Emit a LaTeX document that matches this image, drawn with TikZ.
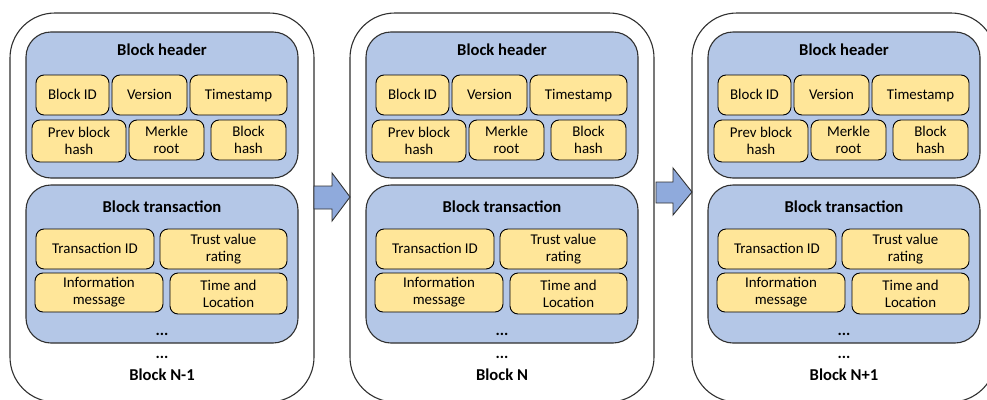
\documentclass[tikz,border=0pt]{standalone}
\usepackage{fontspec}
\setmainfont{Carlito}
\definecolor{hdrblue}{HTML}{B4C7E7}
\definecolor{itemyel}{HTML}{FFE699}
\definecolor{arrblue}{HTML}{8FAADC}
\definecolor{outline}{HTML}{303030}
\tikzset{
  outerbox/.style={draw=outline, line width=1.1pt, fill=white, rounded corners=45pt, inner sep=0pt},
  secbox/.style={draw=outline, line width=1.1pt, fill=hdrblue, rounded corners=25pt, inner sep=0pt},
  itembox/.style={draw=black, line width=0.9pt, fill=itemyel, rounded corners=8pt, inner sep=0pt,
    align=center, font=\fontsize{14.9}{17}\selectfont},
  oneline/.style={text height=10pt, text depth=1pt},
  titletext/.style={font=\fontsize{16.6}{18}\selectfont\bfseries, inner sep=0pt},
  dotstext/.style={font=\fontsize{16}{17}\selectfont\bfseries, inner sep=0pt},
  blockarrow/.style={draw=outline, line width=0.9pt, fill=arrblue, line join=miter},
}
\begin{document}
\begin{tikzpicture}[x=1pt,y=-1pt]
\useasboundingbox (0,0) rectangle (987,399);
\foreach \p/\dx/\lab in {a/0/Block N-1, b/340/Block N, c/682/Block N+1}{
\begin{scope}[shift={(\dx,0)}]
  \node[outerbox, minimum width=304pt, minimum height=389pt] (\p-outer) at (162,207.5) {};
  \node[secbox, minimum width=272pt, minimum height=146pt] (\p-hdr) at (162,105) {};
  \node[secbox, minimum width=272pt, minimum height=158pt] (\p-trx) at (162,264) {};
  \node[titletext] (\p-hdrt) at (162,50) {Block header};
  \node[titletext] (\p-trxt) at (162,207) {Block transaction};
  \node[itembox, oneline, minimum width=73pt, minimum height=40pt] (\p-bid) at (72.5,95) {Block ID};
  \node[itembox, oneline, minimum width=75pt, minimum height=40pt] (\p-ver) at (149.5,95) {Version};
  \node[itembox, oneline, minimum width=97pt, minimum height=40pt] (\p-ts) at (238.5,95) {Timestamp};
  \node[itembox, minimum width=94pt, minimum height=42pt] (\p-prev) at (79,141) {Prev block\\hash};
  \node[itembox, minimum width=75pt, minimum height=40pt] (\p-mr) at (166.5,140) {Merkle\\root};
  \node[itembox, minimum width=75pt, minimum height=40pt] (\p-bh) at (248.5,140) {Block\\hash};
  \node[itembox, oneline, minimum width=118pt, minimum height=40pt] (\p-tid) at (95,249) {Transaction ID};
  \node[itembox, minimum width=127pt, minimum height=40pt] (\p-tvr) at (223.5,249) {Trust value\\rating};
  \node[itembox, minimum width=128pt, minimum height=39pt] (\p-info) at (99,292.5) {Information\\message};
  \node[itembox, minimum width=117pt, minimum height=41pt] (\p-tl) at (228.5,293.5) {Time and\\Location};
  \node[dotstext] (\p-dots1) at (162,334) {...};
  \node[dotstext] (\p-dots2) at (162,357) {...};
  \node[titletext] (\p-lab) at (162,375) {\lab};
\end{scope}
}
\draw[blockarrow] (314,186) -- (332,186) -- (332,173) -- (350,197) -- (332,221) -- (332,209) -- (314,209) -- cycle;
\draw[blockarrow] (656,182) -- (673,182) -- (673,168) -- (692,192) -- (673,215) -- (673,203) -- (656,203) -- cycle;
\end{tikzpicture}
\end{document}
